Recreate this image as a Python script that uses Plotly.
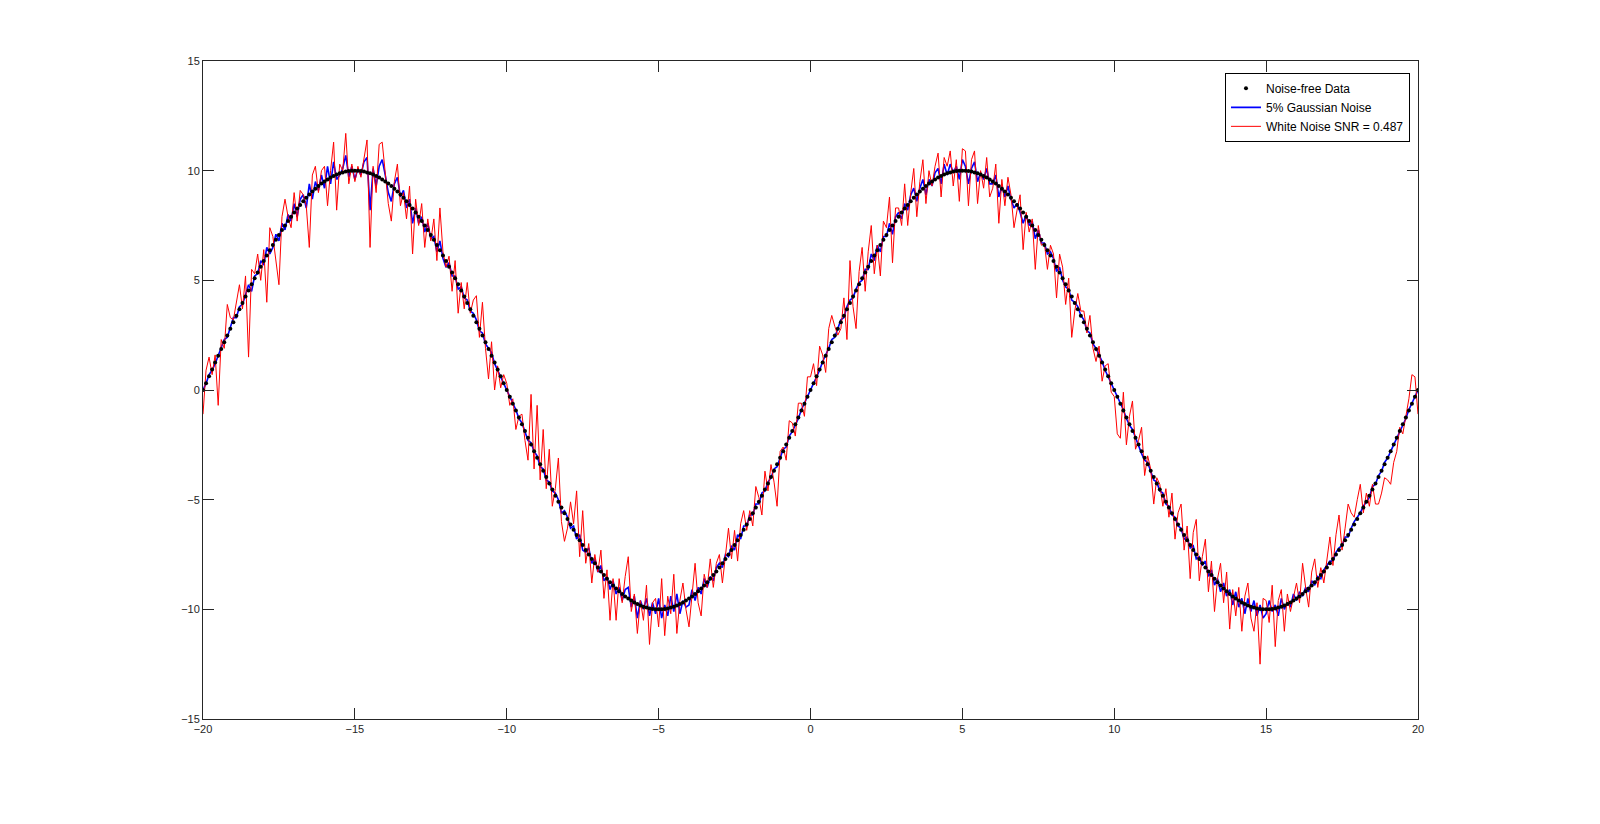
import plotly.graph_objects as go

# sample grid: x = -20 ... 20, step 0.1 (401 samples), positioned by plotly via x0/dx
x_start = -20
x_step = 0.1

noise_free = [
    0.00, 0.31, 0.63, 0.94, 1.25, 1.56, 1.87, 2.18, 2.49, 2.79,
    3.09, 3.39, 3.68, 3.97, 4.26, 4.54, 4.82, 5.09, 5.36, 5.62,
    5.88, 6.13, 6.37, 6.61, 6.85, 7.07, 7.29, 7.50, 7.71, 7.90,
    8.09, 8.27, 8.44, 8.61, 8.76, 8.91, 9.05, 9.18, 9.30, 9.41,
    9.51, 9.60, 9.69, 9.76, 9.82, 9.88, 9.92, 9.96, 9.98, 10.00,
    10.00, 10.00, 9.98, 9.96, 9.92, 9.88, 9.82, 9.76, 9.69, 9.60,
    9.51, 9.41, 9.30, 9.18, 9.05, 8.91, 8.76, 8.61, 8.44, 8.27,
    8.09, 7.90, 7.71, 7.50, 7.29, 7.07, 6.85, 6.61, 6.37, 6.13,
    5.88, 5.62, 5.36, 5.09, 4.82, 4.54, 4.26, 3.97, 3.68, 3.39,
    3.09, 2.79, 2.49, 2.18, 1.87, 1.56, 1.25, 0.94, 0.63, 0.31,
    0.00, -0.31, -0.63, -0.94, -1.25, -1.56, -1.87, -2.18, -2.49, -2.79,
    -3.09, -3.39, -3.68, -3.97, -4.26, -4.54, -4.82, -5.09, -5.36, -5.62,
    -5.88, -6.13, -6.37, -6.61, -6.85, -7.07, -7.29, -7.50, -7.71, -7.90,
    -8.09, -8.27, -8.44, -8.61, -8.76, -8.91, -9.05, -9.18, -9.30, -9.41,
    -9.51, -9.60, -9.69, -9.76, -9.82, -9.88, -9.92, -9.96, -9.98, -10.00,
    -10.00, -10.00, -9.98, -9.96, -9.92, -9.88, -9.82, -9.76, -9.69, -9.60,
    -9.51, -9.41, -9.30, -9.18, -9.05, -8.91, -8.76, -8.61, -8.44, -8.27,
    -8.09, -7.90, -7.71, -7.50, -7.29, -7.07, -6.85, -6.61, -6.37, -6.13,
    -5.88, -5.62, -5.36, -5.09, -4.82, -4.54, -4.26, -3.97, -3.68, -3.39,
    -3.09, -2.79, -2.49, -2.18, -1.87, -1.56, -1.25, -0.94, -0.63, -0.31,
    0.00, 0.31, 0.63, 0.94, 1.25, 1.56, 1.87, 2.18, 2.49, 2.79,
    3.09, 3.39, 3.68, 3.97, 4.26, 4.54, 4.82, 5.09, 5.36, 5.62,
    5.88, 6.13, 6.37, 6.61, 6.85, 7.07, 7.29, 7.50, 7.71, 7.90,
    8.09, 8.27, 8.44, 8.61, 8.76, 8.91, 9.05, 9.18, 9.30, 9.41,
    9.51, 9.60, 9.69, 9.76, 9.82, 9.88, 9.92, 9.96, 9.98, 10.00,
    10.00, 10.00, 9.98, 9.96, 9.92, 9.88, 9.82, 9.76, 9.69, 9.60,
    9.51, 9.41, 9.30, 9.18, 9.05, 8.91, 8.76, 8.61, 8.44, 8.27,
    8.09, 7.90, 7.71, 7.50, 7.29, 7.07, 6.85, 6.61, 6.37, 6.13,
    5.88, 5.62, 5.36, 5.09, 4.82, 4.54, 4.26, 3.97, 3.68, 3.39,
    3.09, 2.79, 2.49, 2.18, 1.87, 1.56, 1.25, 0.94, 0.63, 0.31,
    0.00, -0.31, -0.63, -0.94, -1.25, -1.56, -1.87, -2.18, -2.49, -2.79,
    -3.09, -3.39, -3.68, -3.97, -4.26, -4.54, -4.82, -5.09, -5.36, -5.62,
    -5.88, -6.13, -6.37, -6.61, -6.85, -7.07, -7.29, -7.50, -7.71, -7.90,
    -8.09, -8.27, -8.44, -8.61, -8.76, -8.91, -9.05, -9.18, -9.30, -9.41,
    -9.51, -9.60, -9.69, -9.76, -9.82, -9.88, -9.92, -9.96, -9.98, -10.00,
    -10.00, -10.00, -9.98, -9.96, -9.92, -9.88, -9.82, -9.76, -9.69, -9.60,
    -9.51, -9.41, -9.30, -9.18, -9.05, -8.91, -8.76, -8.61, -8.44, -8.27,
    -8.09, -7.90, -7.71, -7.50, -7.29, -7.07, -6.85, -6.61, -6.37, -6.13,
    -5.88, -5.62, -5.36, -5.09, -4.82, -4.54, -4.26, -3.97, -3.68, -3.39,
    -3.09, -2.79, -2.49, -2.18, -1.87, -1.56, -1.25, -0.94, -0.63, -0.31,
    0.00,
]

gaussian_5pct = [
    0.0, 0.3, 0.7, 0.9, 1.2, 1.6, 1.9, 2.3, 2.4, 2.9,
    3.3, 3.3, 3.8, 3.9, 4.3, 4.8, 4.5, 5.2, 5.3, 5.9,
    5.7, 6.5, 6.2, 6.5, 7.1, 6.8, 7.6, 7.3, 8.0, 7.7,
    8.5, 7.9, 8.7, 8.9, 8.3, 9.4, 8.7, 9.5, 9.1, 9.8,
    9.2, 10.2, 9.4, 10.4, 9.6, 9.8, 10.1, 10.7, 9.7, 10.2,
    9.6, 10.1, 9.8, 10.4, 10.6, 8.2, 10.1, 9.3, 10.2, 10.5,
    9.8, 9.0, 8.6, 9.4, 9.7, 8.8, 9.1, 8.3, 8.7, 7.6,
    8.3, 7.6, 7.9, 7.2, 7.6, 6.9, 7.0, 6.3, 6.8, 6.0,
    5.6, 5.8, 5.2, 5.2, 4.6, 4.7, 4.2, 4.1, 3.6, 3.5,
    3.2, 2.7, 2.6, 2.1, 1.9, 1.7, 1.2, 0.9, 0.6, 0.3,
    0.0, -0.3, -0.6, -0.9, -1.3, -1.5, -1.9, -2.3, -2.4, -2.8,
    -3.0, -3.5, -3.6, -4.1, -4.2, -4.6, -4.7, -5.0, -5.6, -5.5,
    -5.8, -6.3, -6.2, -6.8, -6.6, -7.3, -7.4, -7.2, -7.9, -7.7,
    -8.3, -8.0, -8.7, -8.5, -9.1, -8.7, -9.3, -9.0, -9.6, -9.1,
    -9.0, -9.9, -9.4, -10.4, -9.6, -10.0, -9.5, -10.3, -9.7, -10.2,
    -9.5, -10.4, -9.8, -10.3, -9.4, -10.1, -9.3, -10.2, -9.6, -9.9,
    -9.8, -9.1, -9.6, -9.0, -9.3, -8.6, -9.0, -8.5, -8.7, -8.1,
    -7.9, -8.1, -7.5, -7.6, -7.1, -7.3, -6.6, -6.8, -6.2, -6.2,
    -5.7, -5.7, -5.2, -5.2, -4.7, -4.6, -4.2, -4.0, -3.6, -3.5,
    -3.1, -2.7, -2.6, -2.1, -1.9, -1.6, -1.3, -0.9, -0.6, -0.3,
    0.0, 0.3, 0.6, 0.9, 1.3, 1.6, 1.9, 2.3, 2.4, 2.8,
    3.2, 3.3, 3.8, 4.1, 4.2, 4.6, 4.9, 5.0, 5.5, 5.5,
    6.2, 5.9, 6.6, 6.3, 7.0, 7.0, 7.6, 7.1, 7.9, 8.1,
    7.8, 8.5, 8.2, 8.9, 9.2, 8.6, 9.2, 9.6, 8.9, 9.6,
    9.3, 9.9, 10.1, 9.4, 10.3, 9.8, 10.3, 9.9, 10.2, 9.6,
    10.5, 10.2, 9.4, 10.1, 10.4, 9.5, 9.9, 9.6, 10.1, 9.4,
    9.4, 9.8, 8.8, 9.3, 8.8, 9.3, 8.7, 8.3, 8.5, 8.1,
    7.6, 8.0, 7.5, 7.7, 6.9, 7.3, 6.7, 6.7, 6.2, 6.3,
    6.0, 5.4, 5.6, 5.0, 4.7, 4.6, 4.1, 4.0, 3.8, 3.4,
    3.2, 2.7, 2.6, 2.1, 1.9, 1.6, 1.3, 0.9, 0.6, 0.3,
    0.0, -0.3, -0.6, -0.9, -1.3, -1.6, -1.8, -2.2, -2.5, -2.9,
    -3.2, -3.3, -3.7, -4.1, -4.2, -4.6, -4.7, -5.2, -5.3, -5.7,
    -5.8, -6.2, -6.3, -6.8, -6.7, -7.2, -7.1, -7.7, -7.6, -8.0,
    -7.8, -8.5, -8.2, -8.9, -8.6, -9.2, -8.8, -9.4, -9.1, -9.8,
    -9.2, -9.9, -9.5, -10.2, -9.5, -10.1, -9.6, -10.3, -9.8, -10.4,
    -10.2, -9.6, -10.1, -9.8, -10.3, -9.5, -10.0, -9.7, -9.9, -9.3,
    -9.6, -9.2, -9.4, -9.0, -9.2, -8.7, -8.9, -8.5, -8.6, -8.2,
    -8.0, -7.8, -7.8, -7.4, -7.2, -7.1, -6.7, -6.7, -6.3, -6.0,
    -5.8, -5.6, -5.3, -5.1, -4.9, -4.4, -4.3, -3.9, -3.7, -3.3,
    -3.1, -2.8, -2.5, -2.2, -1.9, -1.6, -1.3, -0.9, -0.6, -0.3,
    0.0,
]

white_noise = [
    -1.1, 0.9, 1.5, 0.7, 1.6, -0.7, 2.3, 1.9, 3.9, 3.3,
    3.2, 4.0, 4.8, 3.7, 5.2, 1.5, 5.5, 5.3, 6.2, 5.0,
    6.4, 4.0, 7.4, 7.0, 5.8, 4.8, 7.9, 8.7, 7.9, 7.4,
    9.0, 7.7, 9.1, 8.9, 8.4, 6.5, 9.8, 10.2, 9.0, 10.0,
    10.2, 8.4, 10.0, 11.3, 8.2, 10.3, 10.0, 11.7, 9.4, 10.3,
    9.5, 10.2, 9.7, 10.6, 11.4, 6.5, 10.2, 9.0, 11.2, 11.3,
    9.9, 8.5, 7.7, 9.5, 10.3, 8.4, 9.0, 7.8, 9.3, 6.2,
    8.7, 7.5, 8.5, 6.5, 7.8, 6.8, 7.8, 5.9, 8.3, 6.3,
    5.6, 6.1, 4.5, 5.9, 3.5, 4.9, 3.7, 4.9, 3.5, 4.1,
    4.3, 2.4, 4.0, 1.9, 0.5, 2.2, 0.0, 1.1, 0.1, 0.7,
    0.3, -0.7, -0.4, -1.8, -1.2, -1.1, -2.3, -3.2, -0.2, -3.6,
    -0.7, -4.1, -1.8, -4.5, -2.7, -5.3, -4.5, -3.1, -6.0, -6.9,
    -6.3, -5.1, -6.1, -4.6, -7.6, -5.5, -7.9, -7.0, -8.8, -7.5,
    -8.3, -7.3, -9.5, -8.2, -10.5, -8.6, -10.5, -8.6, -9.7, -8.5,
    -7.6, -10.1, -9.3, -11.1, -9.6, -10.5, -8.9, -11.6, -9.7, -9.5,
    -10.8, -8.6, -11.2, -9.4, -10.2, -8.4, -11.1, -9.6, -8.8, -10.0,
    -10.8, -9.2, -7.9, -9.7, -10.3, -8.4, -9.0, -7.7, -9.0, -7.9,
    -7.5, -8.8, -7.4, -6.3, -7.7, -6.4, -7.8, -6.1, -5.5, -6.4,
    -5.5, -6.2, -4.4, -4.9, -5.7, -3.7, -4.6, -3.4, -4.2, -5.3,
    -2.8, -2.6, -3.2, -1.4, -1.5, -2.1, -0.6, -0.6, -1.2, 0.6,
    0.6, 1.2, 0.2, 2.0, 1.6, 0.8, 2.8, 3.4, 2.9, 2.5,
    2.8, 4.2, 2.3, 5.9, 3.8, 2.8, 5.4, 6.5, 4.5, 6.3,
    7.5, 5.3, 6.6, 5.2, 7.7, 7.4, 8.8, 5.8, 8.3, 8.3,
    7.5, 9.4, 7.5, 9.0, 10.1, 7.9, 9.5, 10.5, 8.5, 10.0,
    9.3, 10.2, 10.8, 8.8, 10.6, 10.2, 10.9, 9.3, 10.5, 8.6,
    11.0, 10.9, 8.4, 10.5, 10.9, 8.5, 10.0, 9.2, 10.6, 8.8,
    9.2, 10.3, 7.6, 9.6, 8.4, 9.7, 8.9, 7.4, 8.2, 8.9,
    6.4, 8.1, 7.2, 7.8, 5.5, 7.5, 6.6, 6.7, 5.5, 6.6,
    6.2, 4.2, 6.2, 5.6, 3.9, 5.1, 2.4, 3.6, 4.4, 3.6,
    3.6, 2.6, 3.4, 1.9, 1.3, 2.0, 0.4, 1.1, 1.2, -0.1,
    -0.3, -2.0, -2.2, -0.1, -2.5, -1.2, -0.5, -2.7, -2.3, -1.7,
    -3.9, -3.0, -3.6, -5.2, -4.0, -4.3, -5.3, -4.5, -5.8, -4.7,
    -6.8, -5.6, -5.2, -7.3, -6.2, -8.6, -6.5, -5.9, -8.7, -7.6,
    -6.8, -9.2, -7.8, -10.1, -8.6, -7.9, -9.7, -8.3, -10.9, -9.1,
    -10.3, -9.0, -11.0, -9.4, -8.8, -10.4, -11.0, -9.7, -12.5, -9.5,
    -9.6, -10.6, -8.9, -11.7, -9.6, -9.1, -11.0, -9.3, -10.1, -9.4,
    -8.8, -9.7, -7.9, -9.0, -9.9, -8.3, -7.7, -9.0, -8.1, -8.8,
    -7.7, -6.7, -8.0, -6.6, -5.7, -7.3, -6.3, -5.2, -5.6, -5.8,
    -5.0, -4.3, -5.6, -4.7, -5.3, -4.3, -5.2, -5.2, -4.7, -4.0,
    -4.1, -4.3, -3.3, -2.8, -1.7, -2.0, -1.2, -0.4, 0.7, 0.6,
    -1.1,
]

font_family = "Arial, Liberation Sans, Helvetica, sans-serif"
axis_color = "#262626"

fig = go.Figure()

fig.add_trace(go.Scatter(x0=x_start, dx=x_step, y=gaussian_5pct, mode="lines",
                         name="5% Gaussian Noise", legendrank=2,
                         line=dict(color="#0000ff", width=1.6)))
fig.add_trace(go.Scatter(x0=x_start, dx=x_step, y=white_noise, mode="lines",
                         name="White Noise SNR = 0.487", legendrank=3,
                         line=dict(color="#ff0000", width=1)))
fig.add_trace(go.Scatter(x0=x_start, dx=x_step, y=noise_free, mode="markers",
                         name="Noise-free Data", legendrank=1,
                         marker=dict(color="black", size=4)))

axis_style = dict(showgrid=False, zeroline=False, showline=True, mirror="ticks",
                  linecolor=axis_color, linewidth=1, ticks="inside", ticklen=11,
                  tickcolor=axis_color, tickwidth=1, dtick=5,
                  tickfont=dict(family=font_family, size=11, color=axis_color))

fig.update_xaxes(range=[-20, 20], tick0=-20, **axis_style)
fig.update_yaxes(range=[-15, 15], tick0=-15, **axis_style)

# page body keeps its default 8px margin, so the figure is 16px smaller than the window
fig.update_layout(
    width=1584, height=808,
    margin=dict(l=195, r=174, t=53, b=97),
    paper_bgcolor="white", plot_bgcolor="white",
    font=dict(family=font_family, size=11, color="black"),
    legend=dict(x=0.9934, y=0.982, xanchor="right", yanchor="top",
                bordercolor="black", borderwidth=1, bgcolor="white",
                font=dict(family=font_family, size=12, color="black"),
                tracegroupgap=0, itemwidth=30),
    showlegend=True,
)

fig.write_html("out.html")
